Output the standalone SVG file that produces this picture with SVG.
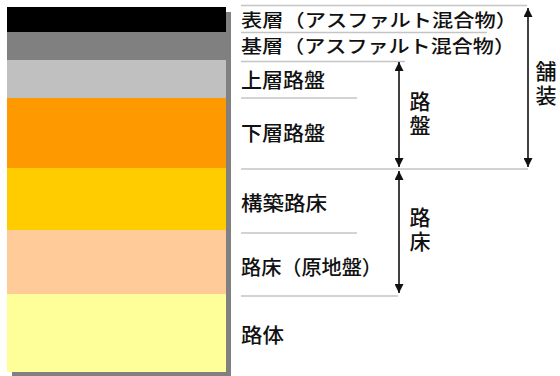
<svg xmlns="http://www.w3.org/2000/svg" width="560" height="376" viewBox="0 0 560 376">
<style>
.t{font-family:"Noto Sans CJK JP","Noto Sans",sans-serif;font-size:20px;font-weight:500;fill:#111}
.s{font-size:18px}
.v{font-family:"Noto Sans CJK JP","Noto Sans",sans-serif;font-size:21px;font-weight:500;fill:#111;writing-mode:vertical-rl;letter-spacing:3px}
.sep{stroke:#c4c4c4;stroke-width:1.5;fill:none}
.arr{stroke:#111;stroke-width:1.6;fill:none}
</style>
<defs>
<marker id="ah" viewBox="0 0 10 10" refX="10" refY="5" markerWidth="9" markerHeight="9" markerUnits="userSpaceOnUse" orient="auto-start-reverse">
<path d="M0,0 L10,5 L0,10 Z" fill="#111"/>
</marker>
</defs>
<rect x="0" y="0" width="560" height="376" fill="#fff"/>
<g id="cross-section">
<rect x="12" y="12" width="219" height="366" fill="#808080"/>
<rect id="layer-surface" x="7" y="7" width="219" height="25" fill="#000"/>
<rect id="layer-base" x="7" y="32" width="219" height="28" fill="#808080"/>
<rect id="layer-upper-roadbed" x="7" y="60" width="219" height="38" fill="#c0c0c0"/>
<rect id="layer-lower-roadbed" x="7" y="98" width="219" height="70" fill="#ff9900"/>
<rect id="layer-constructed-subgrade" x="7" y="168" width="219" height="62" fill="#ffcc00"/>
<rect id="layer-subgrade" x="7" y="230" width="219" height="64" fill="#ffcc99"/>
<rect id="layer-roadbody" x="7" y="294" width="219" height="78" fill="#ffff99"/>
</g>
<g id="separators">
<line class="sep" x1="241" y1="5.5" x2="527" y2="5.5"/>
<line class="sep" x1="241" y1="32.5" x2="487" y2="32.5"/>
<line class="sep" x1="241" y1="61.5" x2="405" y2="61.5"/>
<line class="sep" x1="241" y1="98" x2="357" y2="98"/>
<line class="sep" x1="241" y1="169" x2="528" y2="169"/>
<line class="sep" x1="241" y1="233" x2="357" y2="233"/>
<line class="sep" x1="241" y1="296" x2="398" y2="296"/>
</g>
<g id="labels">
<g id="n-surface"><text class="t s" x="241" y="27" textLength="276" lengthAdjust="spacingAndGlyphs">表層（アスファルト混合物）</text></g>
<g id="n-base"><text class="t s" x="241" y="53" textLength="274" lengthAdjust="spacingAndGlyphs">基層（アスファルト混合物）</text></g>
<g id="n-upper"><text class="t" x="241" y="88" textLength="84" lengthAdjust="spacingAndGlyphs">上層路盤</text></g>
<g id="n-lower"><text class="t" x="241" y="141" textLength="84" lengthAdjust="spacingAndGlyphs">下層路盤</text></g>
<g id="n-constructed"><text class="t" x="241" y="211" textLength="86" lengthAdjust="spacingAndGlyphs">構築路床</text></g>
<g id="n-subgrade"><text class="t" x="241" y="275" textLength="141" lengthAdjust="spacingAndGlyphs">路床（原地盤）</text></g>
<g id="n-roadbody"><text class="t" x="241" y="343" textLength="43" lengthAdjust="spacingAndGlyphs">路体</text></g>
<g id="n-roban"><text class="v" x="420" y="91">路盤</text></g>
<g id="n-hoso"><text class="v" x="546" y="61">舗装</text></g>
<g id="n-roshou"><text class="v" x="420" y="207">路床</text></g>
</g>
<g id="connectors">
<line class="arr" x1="399" y1="62" x2="399" y2="167" marker-start="url(#ah)" marker-end="url(#ah)"/>
<line class="arr" x1="528" y1="8" x2="528" y2="167" marker-start="url(#ah)" marker-end="url(#ah)"/>
<line class="arr" x1="399" y1="171" x2="399" y2="293" marker-start="url(#ah)" marker-end="url(#ah)"/>
</g>
</svg>
